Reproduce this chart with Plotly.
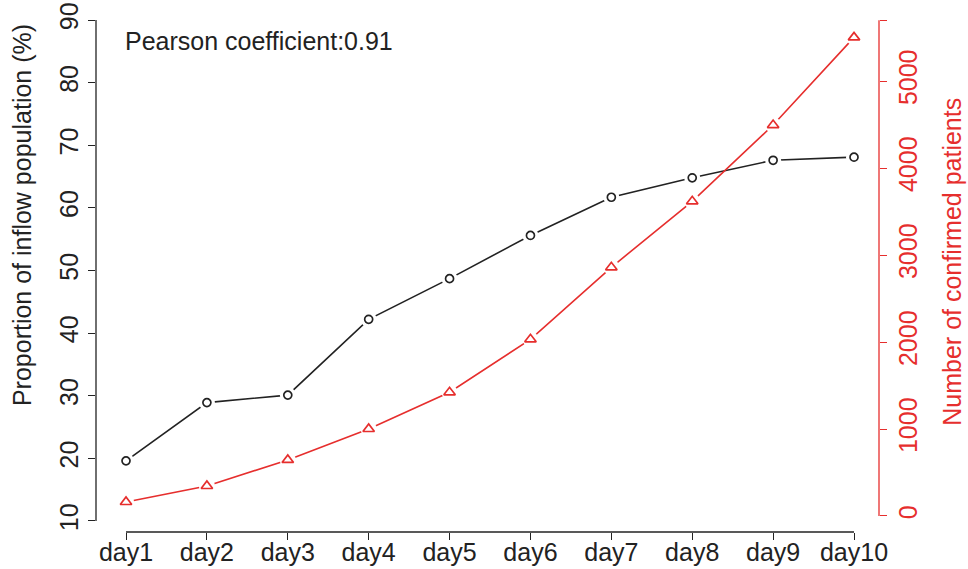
import plotly.graph_objects as go

days = ["day1", "day2", "day3", "day4", "day5", "day6", "day7", "day8", "day9", "day10"]
inflow_pct = [19.6, 28.9, 30.1, 42.2, 48.7, 55.6, 61.7, 64.8, 67.6, 68.1]
confirmed = [161, 345, 644, 1000, 1422, 2031, 2859, 3617, 4494, 5502]
left_ticks = [10, 20, 30, 40, 50, 60, 70, 80, 90]
right_ticks = [0, 1000, 2000, 3000, 4000, 5000, 5700]
right_labels = ["0", "1000", "2000", "3000", "4000", "5000", ""]
pearson_text = "Pearson coefficient:0.91"
left_title = "Proportion of inflow population (%)"
right_title = "Number of confirmed patients"

BLACK = "#222222"
RED = "#E62E2D"
FONT = "Liberation Sans, Arial, Helvetica, sans-serif"
FS = 25

xs = list(range(len(days)))

fig = go.Figure()
# black series
fig.add_trace(go.Scatter(x=xs, y=inflow_pct, mode="lines", line=dict(color=BLACK, width=1.6),
                         yaxis="y", hoverinfo="skip", showlegend=False))
fig.add_trace(go.Scatter(x=xs, y=inflow_pct, mode="markers",
                         marker=dict(symbol="circle", size=16, color="white", line=dict(width=0)),
                         yaxis="y", hoverinfo="skip", showlegend=False))
fig.add_trace(go.Scatter(x=xs, y=inflow_pct, mode="markers",
                         marker=dict(symbol="circle-open", size=8, color=BLACK, line=dict(width=1.7)),
                         yaxis="y", showlegend=False))
# red series
fig.add_trace(go.Scatter(x=xs, y=confirmed, mode="lines", line=dict(color=RED, width=1.6),
                         yaxis="y2", hoverinfo="skip", showlegend=False))
fig.add_trace(go.Scatter(x=xs, y=confirmed, mode="markers",
                         marker=dict(symbol="circle", size=16, color="white", line=dict(width=0)),
                         yaxis="y2", hoverinfo="skip", showlegend=False))
fig.add_trace(go.Scatter(x=xs, y=confirmed, mode="markers",
                         marker=dict(symbol="triangle-up-open", size=10, color=RED, line=dict(width=1.7)),
                         yaxis="y2", showlegend=False))

fig.update_layout(
    width=968, height=569,
    margin=dict(l=96, r=89, t=15, b=37, autoexpand=False),
    paper_bgcolor="white", plot_bgcolor="white",
    font=dict(family=FONT, size=FS, color=BLACK),
    xaxis=dict(range=[-0.371, 9.309], tickvals=xs, ticktext=days, showgrid=False, zeroline=False,
               showline=False, ticks="outside", ticklen=7, tickwidth=1.3, tickcolor=BLACK,
               automargin=False, ticklabelstandoff=-9, tickfont=dict(size=FS, color=BLACK)),
    yaxis=dict(range=[8.24, 90.8], tickvals=left_ticks, showgrid=False, zeroline=False,
               showline=False, ticks="outside", ticklen=7, tickwidth=1.3, tickcolor=BLACK,
               automargin=False, tickangle=-90, tickfont=dict(size=FS, color=BLACK)),
    yaxis2=dict(range=[-184, 5759], overlaying="y", side="right", tickvals=right_ticks,
                ticktext=right_labels, showgrid=False, zeroline=False, showline=False,
                ticks="outside", ticklen=7, tickwidth=1.3, tickcolor=RED, tickangle=-90,
                automargin=False, tickfont=dict(size=FS, color=RED)),
    shapes=[
        dict(type="line", xref="paper", yref="y", x0=0, x1=0, y0=left_ticks[0], y1=left_ticks[-1],
             line=dict(color=BLACK, width=1.3)),
        dict(type="line", xref="paper", yref="y2", x0=1, x1=1, y0=right_ticks[0], y1=right_ticks[-1],
             line=dict(color=RED, width=1.3)),
        dict(type="line", xref="x", yref="paper", x0=xs[0], x1=xs[-1], y0=0, y1=0,
             line=dict(color=BLACK, width=1.3)),
    ],
    annotations=[
        dict(text=pearson_text, xref="paper", yref="paper", x=0.0345, y=0.950, xanchor="left",
             yanchor="middle", showarrow=False, font=dict(size=FS, color=BLACK)),
        dict(text=left_title, xref="paper", yref="paper", x=-0.0945, y=0.613, xanchor="center",
             yanchor="middle", textangle=-90, showarrow=False, font=dict(size=FS, color=BLACK)),
        dict(text=right_title, xref="paper", yref="paper", x=1.094, y=0.522, xanchor="center",
             yanchor="middle", textangle=-90, showarrow=False, font=dict(size=FS, color=RED)),
    ],
)

fig.write_html("out.html", config={"displayModeBar": False},
               post_script="document.body.style.margin='0';document.body.style.overflow='hidden';")
